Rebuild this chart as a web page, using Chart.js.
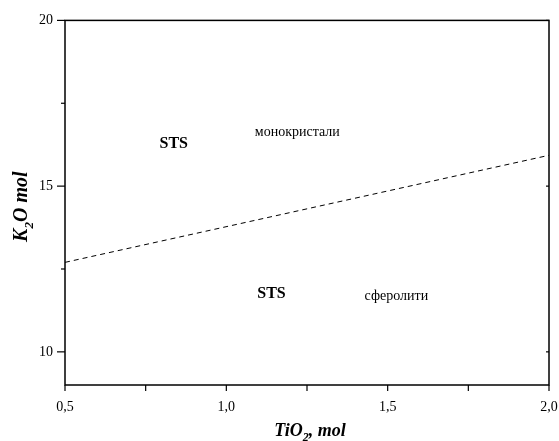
<!DOCTYPE html>
<html>
<head>
<meta charset="utf-8">
<script src="https://cdn.jsdelivr.net/npm/chart.js@4"></script>
<style>
  html, body { margin: 0; padding: 0; background: #fff; }
  #wrap { width: 559px; height: 441px; }
</style>
</head>
<body>
<div id="wrap"><canvas id="myChart"></canvas></div>
<script>
// DATA
const lineX = [0.5, 2.0];
const lineY = [12.7, 15.93];

const xTicks = [0.5, 0.75, 1.0, 1.25, 1.5, 1.75, 2.0];
const yTicks = [10, 12.5, 15, 17.5, 20];

const noteText = ['STS', 'монокристали', 'STS', 'сферолити'];
const noteX = [0.837, 1.22, 1.14, 1.527];
const noteY = [16.29, 16.62, 11.74, 11.68];
const noteBold = [true, false, true, false];

const serif = '"Liberation Serif", "Times New Roman", serif';

function fmt(v) {
    if (Math.abs(v * 2 - Math.round(v * 2)) > 1e-6) return '';
    return v.toFixed(1).replace('.', ',');
}

// plugin: frame, tick marks, notes, axis titles with subscripts
const extras = {
    id: 'extras',
    afterDraw(chart) {
        const ctx = chart.ctx;
        const a = chart.chartArea;
        const xs = chart.scales.x;
        const ys = chart.scales.y;
        ctx.save();
        ctx.strokeStyle = '#000';
        ctx.lineWidth = 1.5;
        ctx.strokeRect(a.left, a.top, a.right - a.left, a.bottom - a.top);

        ctx.lineWidth = 1.2;
        xTicks.forEach((v) => {
            const px = xs.getPixelForValue(v);
            ctx.beginPath();
            ctx.moveTo(px, a.bottom);
            ctx.lineTo(px, a.bottom + 6);
            ctx.stroke();
        });
        yTicks.forEach((v) => {
            const py = ys.getPixelForValue(v);
            const major = v % 5 === 0;
            ctx.beginPath();
            ctx.moveTo(a.left, py);
            ctx.lineTo(a.left - (major ? 8 : 4), py);
            ctx.stroke();
            if (major) {
                ctx.beginPath();
                ctx.moveTo(a.right, py);
                ctx.lineTo(a.right - 3, py);
                ctx.stroke();
            }
        });

        // notes
        ctx.fillStyle = '#000';
        ctx.textAlign = 'center';
        ctx.textBaseline = 'middle';
        for (let i = 0; i < noteText.length; i++) {
            ctx.font = (noteBold[i] ? 'bold 16px ' : '14px ') + serif;
            ctx.fillText(noteText[i], xs.getPixelForValue(noteX[i]), ys.getPixelForValue(noteY[i]));
        }

        // axis titles
        function title(parts, cx, cy, size) {
            ctx.textAlign = 'left';
            ctx.textBaseline = 'alphabetic';
            const sub = Math.round(size * 0.65);
            let w = 0;
            parts.forEach((p) => {
                ctx.font = 'italic bold ' + (p[1] ? sub : size) + 'px ' + serif;
                w += ctx.measureText(p[0]).width;
            });
            let x = cx - w / 2;
            parts.forEach((p) => {
                ctx.font = 'italic bold ' + (p[1] ? sub : size) + 'px ' + serif;
                ctx.fillText(p[0], x, cy + (p[1] ? size * 0.3 : 0));
                x += ctx.measureText(p[0]).width;
            });
        }
        title([['TiO', false], ['2', true], [', mol', false]], (a.left + a.right) / 2 + 3, 436, 18);

        ctx.translate(27, (a.top + a.bottom) / 2 + 4);
        ctx.rotate(-Math.PI / 2);
        title([['K', false], ['2', true], ['O mol', false]], 0, 0, 20);
        ctx.restore();
    }
};

const config = {
    type: 'scatter',
    data: {
        datasets: [{
            data: lineX.map((x, i) => ({ x: x, y: lineY[i] })),
            showLine: true,
            borderColor: '#000',
            borderWidth: 1,
            borderDash: [5, 4],
            pointRadius: 0
        }]
    },
    options: {
        responsive: true,
        maintainAspectRatio: false,
        animation: false,
        layout: { padding: { top: 18, right: 0, left: 0, bottom: 0 } },
        plugins: { legend: { display: false }, tooltip: { enabled: false } },
        scales: {
            x: {
                type: 'linear',
                min: 0.5,
                max: 2.0,
                afterBuildTicks: (s) => { s.ticks = xTicks.map((v) => ({ value: v })); },
                afterFit: (s) => { s.height = 56; s.paddingRight = 10; s.paddingLeft = 0; },
                grid: { display: false, drawTicks: false },
                border: { display: false },
                ticks: {
                    autoSkip: false,
                    maxRotation: 0,
                    padding: 14,
                    color: '#000',
                    font: { family: serif, size: 14 },
                    callback: (v) => fmt(v)
                }
            },
            y: {
                type: 'linear',
                min: 9,
                max: 20,
                afterBuildTicks: (s) => { s.ticks = yTicks.map((v) => ({ value: v })); },
                afterFit: (s) => { s.width = 65; },
                grid: { display: false, drawTicks: false },
                border: { display: false },
                ticks: {
                    autoSkip: false,
                    padding: 12,
                    color: '#000',
                    font: { family: serif, size: 14 },
                    callback: (v) => (v % 5 === 0 ? String(v) : '')
                }
            }
        }
    },
    plugins: [extras]
};

const myChart = new Chart(document.getElementById('myChart'), config);
</script>
</body>
</html>
